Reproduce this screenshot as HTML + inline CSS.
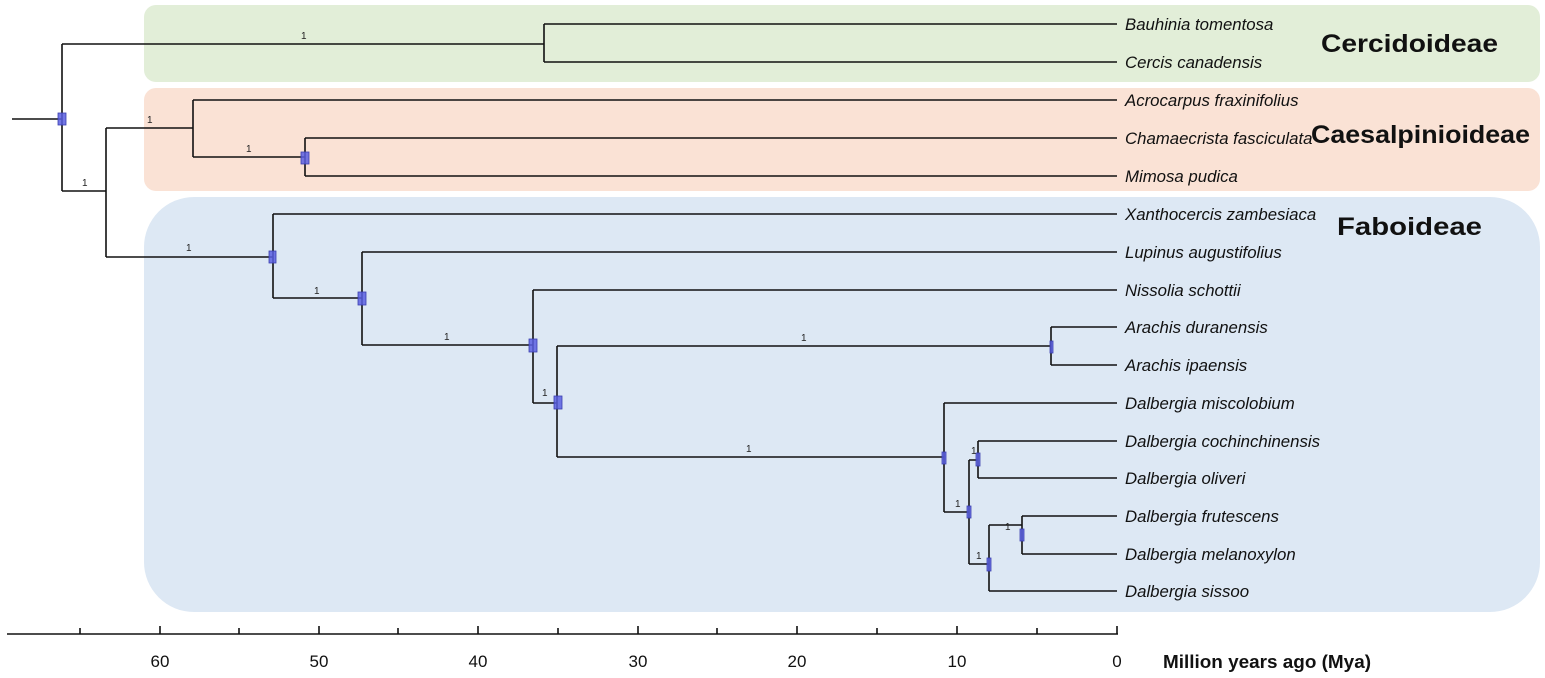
<!DOCTYPE html>
<html><head><meta charset="utf-8"><style>
body{margin:0;background:#fff;}
svg{display:block;font-family:"Liberation Sans",Arial,sans-serif;}
.sp{font-size:10px;fill:#222;}
.lf{font-size:16.8px;font-style:italic;fill:#111;}
</style></head><body>
<svg width="1545" height="678" viewBox="0 0 1545 678">
<rect x="144" y="5" width="1396" height="77" rx="12" fill="#e2eed8"/>
<rect x="144" y="88" width="1396" height="103" rx="12" fill="#fae2d5"/>
<rect x="144" y="197" width="1396" height="415" rx="50" fill="#dde8f4"/>
<g font-weight="bold" font-size="25" fill="#111">
<text x="1321" y="52" textLength="177" lengthAdjust="spacingAndGlyphs">Cercidoideae</text>
<text x="1311" y="143" textLength="219" lengthAdjust="spacingAndGlyphs">Caesalpinioideae</text>
<text x="1337" y="235" textLength="145" lengthAdjust="spacingAndGlyphs">Faboideae</text>
</g>
<g stroke="#111" stroke-width="1.6" fill="none">
<path d="M12 119H62M62 44V191M62 44H544M544 24V62M544 24H1117M544 62H1117"/>
<path d="M62 191H106M106 128V257M106 128H193M193 100V157M193 100H1117M193 157H305M305 138V176M305 138H1117M305 176H1117"/>
<path d="M106 257H273M273 214V298M273 214H1117M273 298H362M362 252V345M362 252H1117M362 345H533M533 290V403M533 290H1117M533 403H557M557 346V457M557 346H1051M1051 327V365M1051 327H1117M1051 365H1117"/>
<path d="M557 457H944M944 403V512M944 403H1117M944 512H969M969 460V564M969 460H978M978 441V478M978 441H1117M978 478H1117M969 564H989M989 525V591M989 591H1117M989 525H1022M1022 516V554M1022 516H1117M1022 554H1117"/>
</g>
<g fill="#5a5fe0" fill-opacity="0.85" stroke="#3a3fb0" stroke-width="0.8">
<rect x="58" y="113" width="8" height="12"/>
<rect x="301" y="152" width="8" height="12"/>
<rect x="269" y="251" width="7" height="12"/>
<rect x="358" y="292" width="8" height="13"/>
<rect x="529" y="339" width="8" height="13"/>
<rect x="554" y="396" width="8" height="13"/>
<rect x="1050" y="341" width="3" height="12"/>
<rect x="942" y="452" width="4" height="12"/>
<rect x="976" y="453" width="4" height="13"/>
<rect x="967" y="506" width="4" height="12"/>
<rect x="1020" y="529" width="4" height="12"/>
<rect x="987" y="558" width="4" height="13"/>
</g>
<g class="sp">
<text x="301" y="39">1</text>
<text x="147" y="123">1</text>
<text x="82" y="186">1</text>
<text x="246" y="152">1</text>
<text x="186" y="251">1</text>
<text x="314" y="294">1</text>
<text x="444" y="340">1</text>
<text x="542" y="396">1</text>
<text x="801" y="341">1</text>
<text x="746" y="452">1</text>
<text x="971" y="454">1</text>
<text x="955" y="507">1</text>
<text x="1005" y="530">1</text>
<text x="976" y="559">1</text>
</g>
<g class="lf">
<text x="1125" y="30">Bauhinia tomentosa</text>
<text x="1125" y="68">Cercis canadensis</text>
<text x="1125" y="106">Acrocarpus fraxinifolius</text>
<text x="1125" y="144">Chamaecrista fasciculata</text>
<text x="1125" y="182">Mimosa pudica</text>
<text x="1125" y="220">Xanthocercis zambesiaca</text>
<text x="1125" y="258">Lupinus augustifolius</text>
<text x="1125" y="296">Nissolia schottii</text>
<text x="1125" y="333">Arachis duranensis</text>
<text x="1125" y="371">Arachis ipaensis</text>
<text x="1125" y="409">Dalbergia miscolobium</text>
<text x="1125" y="447">Dalbergia cochinchinensis</text>
<text x="1125" y="484">Dalbergia oliveri</text>
<text x="1125" y="522">Dalbergia frutescens</text>
<text x="1125" y="560">Dalbergia melanoxylon</text>
<text x="1125" y="597">Dalbergia sissoo</text>
</g>
<g stroke="#111" stroke-width="1.6">
<line x1="7" y1="634" x2="1118" y2="634"/>
<path d="M1117 626V634M1037 628V634M957 626V634M877 628V634M797 626V634M717 628V634M638 626V634M558 628V634M478 626V634M398 628V634M319 626V634M239 628V634M160 626V634M80 628V634"/>
</g>
<g font-size="17" fill="#111" text-anchor="middle">
<text x="1117" y="667">0</text><text x="957" y="667">10</text><text x="797" y="667">20</text>
<text x="638" y="667">30</text><text x="478" y="667">40</text><text x="319" y="667">50</text><text x="160" y="667">60</text>
</g>
<text x="1163" y="668" font-size="18" font-weight="bold" fill="#111" textLength="208" lengthAdjust="spacingAndGlyphs">Million years ago (Mya)</text>
</svg>
</body></html>
